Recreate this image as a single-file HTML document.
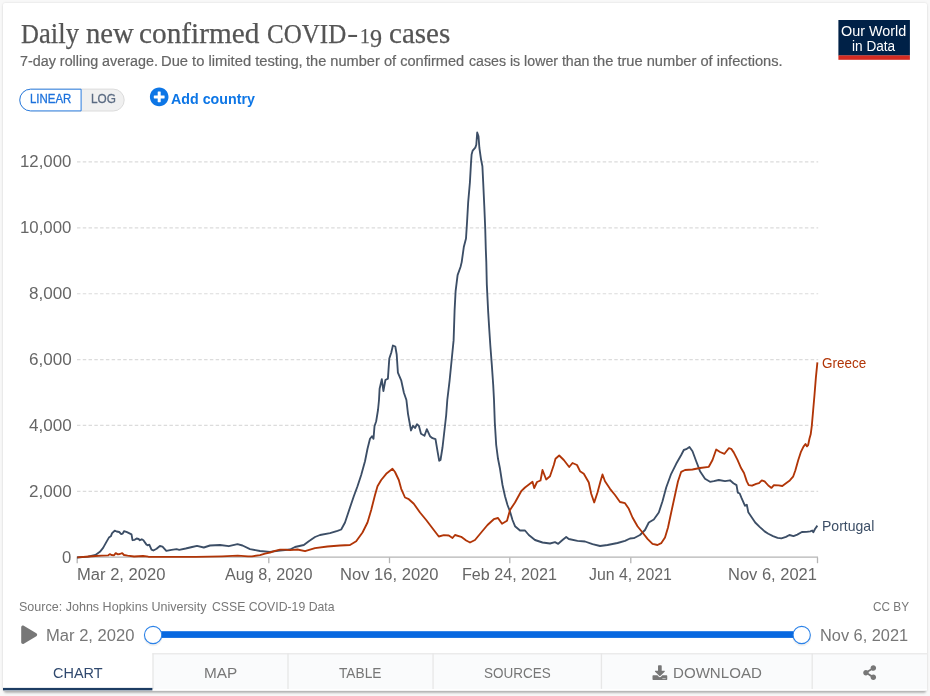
<!DOCTYPE html>
<html lang="en"><head><meta charset="utf-8"><title>Daily new confirmed COVID-19 cases</title>
<style>
html,body{margin:0;padding:0;background:#f8f8f8}
body{width:930px;height:696px;background:#f8f8f8;position:relative;overflow:hidden;font-family:"Liberation Sans", Arial, sans-serif}
.card{position:absolute;left:3px;top:3px;width:924px;height:687px;background:#fff;border-radius:2px;box-shadow:0 0 2.3px rgba(0,0,0,.12);transform-origin:0 0;transform:scaleY(1.00073)}
.shadow{position:absolute;left:4px;top:3px;width:922px;height:687px;border-radius:2px;box-shadow:0 2.3px 2.3px rgba(0,0,0,.25);transform-origin:0 0;transform:scaleY(1.00073)}
.abs{position:absolute;left:0;top:0;width:930px;height:696px}
.t{position:absolute;display:block;white-space:nowrap;line-height:1;transform-origin:0 0;margin:0;padding:0}
.sans{font-family:"Liberation Sans", Arial, sans-serif}
.serif{font-family:"Liberation Serif", "Times New Roman", serif}
h1,p,nav,header,footer{margin:0;padding:0;font-weight:normal}
.tabs{position:absolute;left:3px;top:653px;width:924px;height:36px;background:#fafbfc}
.tabs div{position:absolute;top:0;height:36px}
.tabs .active{left:0;width:150px;background:#fff;height:37px}
svg{position:absolute;left:0;top:0}
</style></head>
<body>
<div class="shadow"></div>
<main class="card"></main>
<div class="abs">
<header>
<h1><span class="t serif" style="left:20.90px;top:20px;font-size:28px;color:#555;-webkit-text-stroke:0.25px #555;transform:scaleX(0.8850)">D</span><span class="t serif" style="left:38.80px;top:19px;font-size:29.5px;color:#555;-webkit-text-stroke:0.25px #555;transform:scaleX(0.9037)">aily</span>
<span class="t serif" style="left:85.60px;top:19px;font-size:29.5px;color:#555;-webkit-text-stroke:0.25px #555;transform:scaleX(0.9730)">new</span>
<span class="t serif" style="left:139.41px;top:19px;font-size:29.5px;color:#555;-webkit-text-stroke:0.25px #555;transform:scaleX(0.9927)">confirmed</span>
<span class="t serif" style="left:266.61px;top:20px;font-size:28px;color:#555;-webkit-text-stroke:0.25px #555;transform:scaleX(0.8932)">COVID</span><span class="t serif" style="left:347.29px;top:19px;font-size:28px;color:#555;transform:scaleX(1.2125)">-</span><span class="t serif" style="left:360.12px;top:26px;font-size:20.2px;color:#555;-webkit-text-stroke:0.25px #555;transform:scaleX(0.9750)">1</span><span class="t serif" style="left:370.20px;top:26px;font-size:25.6px;color:#555;-webkit-text-stroke:0.25px #555;transform:scaleX(0.9417)">9</span>
<span class="t serif" style="left:388.72px;top:19px;font-size:29.5px;color:#555;-webkit-text-stroke:0.25px #555;transform:scaleX(0.9842)">cases</span></h1>
<p><span class="t sans" style="left:19.90px;top:54px;font-size:14px;color:#666;-webkit-text-stroke:0.2px #666;transform:scaleX(1.0243)">7-day rolling average.</span>
<span class="t sans" style="left:161.35px;top:54px;font-size:14px;color:#666;-webkit-text-stroke:0.2px #666;transform:scaleX(1.0525)">Due to limited testing,</span>
<span class="t sans" style="left:306.20px;top:54px;font-size:14px;color:#666;-webkit-text-stroke:0.2px #666;transform:scaleX(1.0427)">the number of confirmed</span>
<span class="t sans" style="left:468.50px;top:54px;font-size:14px;color:#666;-webkit-text-stroke:0.2px #666;transform:scaleX(1.0121)">cases is lower than</span>
<span class="t sans" style="left:592.60px;top:54px;font-size:14px;color:#666;-webkit-text-stroke:0.2px #666;transform:scaleX(1.0458)">the true number of infections.</span></p>
<svg width="930" height="696" viewBox="0 0 930 696"><rect x="838.4" y="20" width="71.5" height="35.6" fill="#002147"/><rect x="838.4" y="55.4" width="71.5" height="4.4" fill="#d42b21"/></svg><span class="t sans" style="left:841.20px;top:25px;font-size:13.8px;color:#fff;transform:scaleX(1.0430)">Our World</span>
<span class="t sans" style="left:852.00px;top:40px;font-size:13.8px;color:#fff;transform:scaleX(0.9877)">in Data</span>
</header>
<section class="controls">
<svg width="930" height="696" viewBox="0 0 930 696"><rect x="19.7" y="89.1" width="104.5" height="21.9" rx="10.95" fill="#f0f0f0" stroke="#dcdcdc" stroke-width="1"/><path d="M81.1,89.2 H30.6 A10.85,10.85 0 0 0 30.6,110.9 H81.1 Z" fill="#fff" stroke="#2b7de0" stroke-width="1"/></svg>
<span class="t sans" style="left:29.68px;top:93px;font-size:12.4px;color:#1d72dc;-webkit-text-stroke:0.3px #1d72dc;transform:scaleX(0.9244)">LINEAR</span>
<span class="t sans" style="left:91.05px;top:93px;font-size:12.4px;color:#5b6b82;-webkit-text-stroke:0.3px #5b6b82;transform:scaleX(0.9499)">LOG</span>
<span class="t sans" style="left:171.20px;top:91px;font-size:15px;font-weight:700;color:#0d76e6;transform:scaleX(0.9496)">Add country</span>
</section>
<svg width="930" height="696" viewBox="0 0 930 696">
<g stroke="#dcdcdc" stroke-width="1.15" stroke-dasharray="3.467,2.31" fill="none"><line x1="77" x2="818.2" y1="161.8" y2="161.8"/><line x1="77" x2="818.2" y1="227.8" y2="227.8"/><line x1="77" x2="818.2" y1="293.7" y2="293.7"/><line x1="77" x2="818.2" y1="359.6" y2="359.6"/><line x1="77" x2="818.2" y1="425.4" y2="425.4"/><line x1="77" x2="818.2" y1="491.3" y2="491.3"/></g>
<g stroke="#b4b4b4" stroke-width="1.3" fill="none"><line x1="76.6" x2="818" y1="557.2" y2="557.2"/><line x1="77.2" x2="77.2" y1="557.4" y2="563.2"/><line x1="268.8" x2="268.8" y1="557.4" y2="563.2"/><line x1="389.5" x2="389.5" y1="557.4" y2="563.2"/><line x1="509.8" x2="509.8" y1="557.4" y2="563.2"/><line x1="630.8" x2="630.8" y1="557.4" y2="563.2"/><line x1="817.5" x2="817.5" y1="557.4" y2="563.2"/></g>
<path d="M77.0,557.5 L88.0,556.6 L95.4,555.0 L99.9,551.8 L103.1,547.9 L106.3,542.1 L108.9,537.6 L110.8,536.3 L112.1,533.1 L114.7,530.7 L116.6,531.5 L119.2,532.0 L121.2,534.1 L122.7,533.7 L124.0,531.1 L127.0,532.2 L131.5,534.4 L132.5,540.2 L134.7,539.8 L136.6,538.5 L138.6,539.0 L139.9,540.2 L141.8,539.3 L143.4,540.2 L146.3,544.4 L147.6,545.3 L149.3,544.7 L151.5,549.6 L153.4,550.5 L156.6,548.8 L159.9,546.0 L162.5,546.6 L166.3,550.9 L171.5,549.8 L176.6,549.2 L179.2,549.8 L185.7,548.5 L192.1,547.0 L197.0,545.8 L203.8,547.5 L210.0,545.5 L220.0,545.0 L228.8,546.2 L237.5,544.2 L242.5,545.5 L250.0,549.2 L260.0,551.0 L270.0,551.8 L280.0,550.5 L290.0,549.5 L295.0,547.0 L303.8,545.0 L308.8,541.2 L315.0,537.0 L320.0,535.0 L330.0,533.2 L337.5,530.8 L341.2,529.5 L345.0,522.5 L350.0,507.5 L353.8,496.2 L357.5,486.2 L361.2,475.0 L365.0,461.2 L367.5,448.8 L370.0,438.8 L372.0,436.2 L373.5,438.8 L374.5,426.2 L376.2,421.2 L378.0,410.0 L379.0,400.0 L379.6,388.7 L381.8,379.2 L383.4,391.1 L385.4,380.0 L387.9,378.6 L389.3,358.5 L391.3,352.5 L392.9,345.5 L395.3,346.5 L396.7,354.5 L397.9,372.6 L401.3,380.7 L403.9,392.7 L406.4,400.0 L408.0,413.8 L410.0,425.0 L411.0,430.5 L413.0,425.8 L415.0,428.0 L417.0,424.2 L419.0,426.2 L421.0,433.8 L424.5,435.8 L426.8,429.2 L430.0,436.2 L432.5,438.2 L435.5,439.2 L437.5,451.2 L439.2,460.8 L440.5,460.0 L442.5,447.5 L444.5,430.0 L446.2,415.0 L447.3,400.0 L449.6,380.7 L451.6,360.5 L453.6,340.4 L454.6,310.3 L455.6,291.2 L457.6,275.1 L460.5,267.0 L461.7,262.1 L463.8,247.1 L466.0,238.5 L467.1,221.2 L468.2,201.8 L469.9,182.5 L471.0,163.1 L471.6,154.5 L472.7,150.6 L475.3,147.6 L476.3,144.8 L477.2,132.5 L478.5,136.2 L479.4,148.0 L481.1,159.8 L482.4,166.3 L483.2,182.5 L484.3,206.2 L485.2,227.7 L485.8,249.2 L486.3,262.0 L486.8,284.1 L488.2,312.3 L489.2,328.4 L490.4,346.5 L491.8,364.6 L493.2,384.7 L494.0,400.0 L494.8,422.5 L496.2,445.0 L498.0,458.8 L500.0,468.8 L502.5,485.0 L505.0,496.2 L507.5,505.0 L510.0,511.5 L512.5,520.0 L515.0,526.2 L520.0,530.5 L525.0,530.5 L528.8,535.0 L535.0,540.0 L542.5,542.5 L550.0,543.5 L555.0,542.2 L558.2,543.8 L562.5,540.0 L566.2,537.0 L568.8,539.0 L577.5,540.8 L585.0,541.5 L592.5,544.2 L600.0,546.0 L607.5,545.0 L617.5,543.0 L625.0,540.8 L630.0,538.5 L633.8,538.2 L640.0,535.0 L645.0,530.0 L648.8,522.5 L653.8,519.5 L658.8,512.5 L662.5,501.2 L666.2,487.5 L671.2,473.8 L676.2,463.8 L681.2,455.0 L683.8,450.0 L686.2,449.2 L689.5,447.0 L692.5,451.2 L696.2,461.2 L700.0,471.2 L705.0,478.8 L710.0,481.8 L713.8,481.2 L718.8,480.0 L725.0,481.2 L730.0,480.3 L733.4,483.2 L736.5,485.1 L737.8,492.6 L739.7,493.5 L741.6,498.2 L744.9,505.7 L746.8,504.7 L748.3,512.2 L751.5,516.9 L755.2,522.5 L759.9,527.1 L764.6,531.4 L768.3,533.7 L773.0,536.1 L777.6,537.8 L781.4,538.4 L786.0,536.9 L789.4,535.0 L793.5,536.1 L797.3,534.6 L801.9,532.0 L806.6,531.8 L810.3,531.3 L812.2,530.5 L813.3,532.2 L815.0,529.0 L817.4,525.6" fill="none" stroke="#3c4e66" stroke-width="1.85" stroke-linejoin="round" stroke-linecap="butt"/>
<path d="M77.3,557.3 L88.9,556.5 L95.4,556.0 L101.8,555.6 L108.3,555.3 L109.8,554.1 L111.5,555.0 L114.1,555.3 L115.7,553.1 L117.9,554.4 L119.9,554.0 L122.2,553.1 L124.0,555.0 L127.6,555.6 L134.1,556.5 L143.1,556.0 L148.3,556.7 L166.3,556.8 L196.0,556.8 L222.0,556.3 L237.7,555.7 L248.0,556.3 L252.0,556.3 L260.0,555.1 L265.0,553.6 L270.0,552.5 L275.0,550.8 L280.0,549.7 L285.0,549.6 L290.0,550.2 L297.5,549.5 L305.0,551.2 L315.0,548.2 L327.5,546.5 L340.0,545.5 L350.0,545.0 L356.2,541.2 L362.5,532.5 L367.5,522.5 L371.2,510.0 L375.0,495.0 L377.5,486.2 L381.2,480.0 L386.2,473.8 L390.0,470.8 L392.5,468.8 L395.0,472.0 L398.8,480.0 L401.2,488.8 L405.0,497.5 L408.8,499.2 L413.8,503.8 L420.0,512.5 L426.2,520.0 L433.8,530.0 L438.8,536.5 L443.8,535.2 L448.8,535.5 L452.5,538.0 L455.0,535.0 L461.2,536.8 L466.2,540.5 L470.0,542.5 L475.0,540.0 L481.2,532.5 L487.5,525.0 L493.8,519.2 L498.0,518.0 L502.0,523.8 L507.0,520.8 L510.0,510.0 L515.0,502.5 L521.2,491.2 L525.0,487.5 L532.5,481.8 L534.2,488.0 L537.0,482.0 L540.5,480.5 L542.5,470.0 L546.2,479.5 L550.0,476.2 L553.8,465.0 L555.5,458.8 L559.2,455.5 L563.8,460.0 L569.2,467.0 L572.5,463.0 L577.0,465.0 L580.0,471.2 L583.8,473.8 L588.8,482.5 L591.2,493.8 L594.2,502.5 L597.5,492.5 L600.5,481.2 L602.5,474.5 L605.0,481.2 L610.0,488.8 L615.0,495.0 L620.0,502.0 L625.0,503.2 L628.8,508.8 L632.5,517.5 L637.5,526.2 L642.5,532.5 L647.5,538.8 L652.5,543.8 L657.5,545.0 L661.2,543.2 L665.0,537.5 L668.0,527.5 L671.2,512.5 L675.0,495.0 L678.0,481.2 L681.2,471.8 L685.0,470.0 L692.5,469.5 L700.0,468.0 L708.8,466.8 L712.5,460.0 L716.2,449.5 L720.0,452.0 L724.5,453.8 L728.8,448.2 L731.2,448.8 L733.7,452.4 L737.5,459.9 L741.2,468.3 L744.0,473.0 L746.8,481.4 L748.7,485.1 L752.0,485.7 L756.2,483.8 L759.0,483.2 L761.8,480.4 L764.6,481.4 L768.3,485.5 L771.5,487.9 L773.9,485.1 L778.6,485.3 L782.3,486.0 L786.0,483.2 L789.8,480.4 L793.1,476.7 L795.4,470.2 L798.2,460.2 L800.8,452.2 L803.5,446.6 L805.5,444.0 L807.0,446.4 L808.1,445.2 L809.5,438.5 L810.7,434.3 L811.8,425.9 L813.1,411.0 L814.4,396.0 L815.9,377.4 L817.4,362.4" fill="none" stroke="#b13507" stroke-width="1.85" stroke-linejoin="round" stroke-linecap="butt"/>
<!-- add country icon -->
<g transform="translate(149.6,87.3) scale(0.0375)"><path fill="#0d76e6" d="M256 8C119 8 8 119 8 256s111 248 248 248 248-111 248-248S393 8 256 8zm144 276c0 6.600-5.400 12-12 12h-92v92c0 6.600-5.400 12-12 12h-56c-6.600 0-12-5.400-12-12v-92h-92c-6.600 0-12-5.400-12-12v-56c0-6.600 5.400-12 12-12h92v-92c0-6.600 5.400-12 12-12h56c6.600 0 12 5.400 12 12v92h92c6.600 0 12 5.400 12 12v56z"/></g>
<!-- play -->
<g transform="translate(21.2,625.6) scale(0.0357)"><path fill="#777" d="M424.400 214.700L72.400 6.600C43.800-10.300 0 6.100 0 47.900V464c0 37.500 40.700 60.100 72.400 41.300l352-208c31.400-18.500 31.500-64.100 0-82.600z"/></g>
<!-- slider -->
<rect x="153" y="631.2" width="649" height="6.7" fill="#0768e0"/>
<circle cx="153.1" cy="636.6" r="9.6" fill="#000" opacity=".05"/><circle cx="153.1" cy="635" r="8.65" fill="#fff" stroke="#2b82e8" stroke-width="1.1"/>
<circle cx="801.7" cy="636.6" r="9.6" fill="#000" opacity=".05"/><circle cx="801.7" cy="635" r="8.65" fill="#fff" stroke="#2b82e8" stroke-width="1.1"/>
</svg>
<span class="t sans" style="left:20.25px;top:154px;font-size:16px;color:#666;transform:scaleX(1.0491)">12,000</span>
<span class="t sans" style="left:20.25px;top:220px;font-size:16px;color:#666;transform:scaleX(1.0491)">10,000</span>
<span class="t sans" style="left:28.90px;top:286px;font-size:16px;color:#666;transform:scaleX(1.0663)">8,000</span>
<span class="t sans" style="left:28.90px;top:352px;font-size:16px;color:#666;transform:scaleX(1.0663)">6,000</span>
<span class="t sans" style="left:28.90px;top:418px;font-size:16px;color:#666;transform:scaleX(1.0663)">4,000</span>
<span class="t sans" style="left:28.90px;top:484px;font-size:16px;color:#666;transform:scaleX(1.0663)">2,000</span>
<span class="t sans" style="left:62.30px;top:550px;font-size:16px;color:#666;transform:scaleX(1.0444)">0</span>
<span class="t sans" style="left:76.66px;top:567px;font-size:16px;color:#666;transform:scaleX(1.0357)">Mar 2, 2020</span>
<span class="t sans" style="left:225.00px;top:567px;font-size:16px;color:#666;transform:scaleX(1.0127)">Aug 8, 2020</span>
<span class="t sans" style="left:339.66px;top:567px;font-size:16px;color:#666;transform:scaleX(1.0352)">Nov 16, 2020</span>
<span class="t sans" style="left:461.69px;top:567px;font-size:16px;color:#666;transform:scaleX(1.0064)">Feb 24, 2021</span>
<span class="t sans" style="left:589.30px;top:567px;font-size:16px;color:#666;transform:scaleX(0.9913)">Jun 4, 2021</span>
<span class="t sans" style="left:728.27px;top:567px;font-size:16px;color:#666;transform:scaleX(1.0307)">Nov 6, 2021</span>
<span class="t sans" style="left:822.10px;top:355px;font-size:15px;color:#b13507;transform:scaleX(0.8987)">Greece</span>
<span class="t sans" style="left:822.36px;top:518px;font-size:15px;color:#3c4e66;transform:scaleX(0.9352)">Portugal</span>
<footer>
<span class="t sans" style="left:19.20px;top:601px;font-size:12.6px;color:#777;transform:scaleX(0.9953)">Source: Johns Hopkins University</span>
<span class="t sans" style="left:211.80px;top:601px;font-size:12.6px;color:#777;transform:scaleX(0.9724)">CSSE COVID-19 Data</span>
<span class="t sans" style="left:872.70px;top:601px;font-size:12.6px;color:#777;transform:scaleX(0.9363)">CC BY</span>
<span class="t sans" style="left:46.16px;top:628px;font-size:16px;color:#777;transform:scaleX(1.0357)">Mar 2, 2020</span>
<span class="t sans" style="left:820.18px;top:628px;font-size:16px;color:#777;transform:scaleX(1.0213)">Nov 6, 2021</span>
</footer>
<nav class="tabs">
<div class="active"><span class="t sans" style="left:49.50px;top:13px;font-size:14.5px;color:#30496e;transform:scaleX(0.9975)">CHART</span></div>
<div style="left:150px;width:135px"><span class="t sans" style="left:51.04px;top:13px;font-size:14.5px;color:#777;transform:scaleX(1.0588)">MAP</span></div>
<div style="left:285px;width:145px"><span class="t sans" style="left:51.30px;top:13px;font-size:14.5px;color:#777;transform:scaleX(0.9449)">TABLE</span></div>
<div style="left:430px;width:168px"><span class="t sans" style="left:51.30px;top:13px;font-size:14.5px;color:#777;transform:scaleX(0.9319)">SOURCES</span></div>
<div style="left:598px;width:211px"><span class="t sans" style="left:71.96px;top:13px;font-size:14.5px;color:#777;transform:scaleX(1.0403)">DOWNLOAD</span></div>
<div style="left:809px;width:115px"></div>
</nav>
<svg width="930" height="696" viewBox="0 0 930 696" style="pointer-events:none">
<rect x="152.4" y="688.9" width="774.6" height="1.7" fill="#fff"/>
<line x1="152.4" x2="927" y1="653.8" y2="653.8" stroke="#ebebeb" stroke-width="1.6"/>
<g stroke="#e7e7e7" stroke-width="1.3"><line x1="153.0" x2="153.0" y1="653.2" y2="688.9"/><line x1="288.0" x2="288.0" y1="653.2" y2="688.9"/><line x1="433.06" x2="433.06" y1="653.2" y2="688.9"/><line x1="601.45" x2="601.45" y1="653.2" y2="688.9"/><line x1="812.2" x2="812.2" y1="653.2" y2="688.9"/></g>
<rect x="3" y="687.9" width="149.4" height="2.4" fill="#1d3d63"/>
<g transform="translate(652.5,665.2) scale(0.0288)"><path fill="#777" d="M216 0h80c13.300 0 24 10.700 24 24v168h87.700c17.800 0 26.700 21.500 14.100 34.100L269.700 378.300c-7.500 7.500-19.800 7.500-27.300 0L90.100 226.100c-12.600-12.600-3.700-34.100 14.100-34.100H192V24c0-13.300 10.700-24 24-24zm296 376v112c0 13.300-10.700 24-24 24H24c-13.300 0-24-10.700-24-24V376c0-13.300 10.700-24 24-24h146.700l49 49c20.100 20.100 52.500 20.100 72.600 0l49-49H488c13.300 0 24 10.700 24 24zm-124 88c0-11-9-20-20-20s-20 9-20 20 9 20 20 20 20-9 20-20zm64 0c0-11-9-20-20-20s-20 9-20 20 9 20 20 20 20-9 20-20z"/></g>
<g transform="translate(863.2,665.3) scale(0.0288)"><path fill="#777" d="M352 320c-22.608 0-43.387 7.819-59.790 20.895l-102.486-64.054a96.551 96.551 0 0 0 0-41.683l102.486-64.054C308.613 184.181 329.392 192 352 192c53.019 0 96-42.981 96-96S405.019 0 352 0s-96 42.981-96 96c0 7.158.790 14.130 2.276 20.841L155.790 180.895C139.387 167.819 118.608 160 96 160c-53.019 0-96 42.981-96 96s42.981 96 96 96c22.608 0 43.387-7.819 59.790-20.895l102.486 64.054A96.301 96.301 0 0 0 256 416c0 53.019 42.981 96 96 96s96-42.981 96-96-42.981-96-96-96z"/></g>
</svg>
</div>
</body></html>
